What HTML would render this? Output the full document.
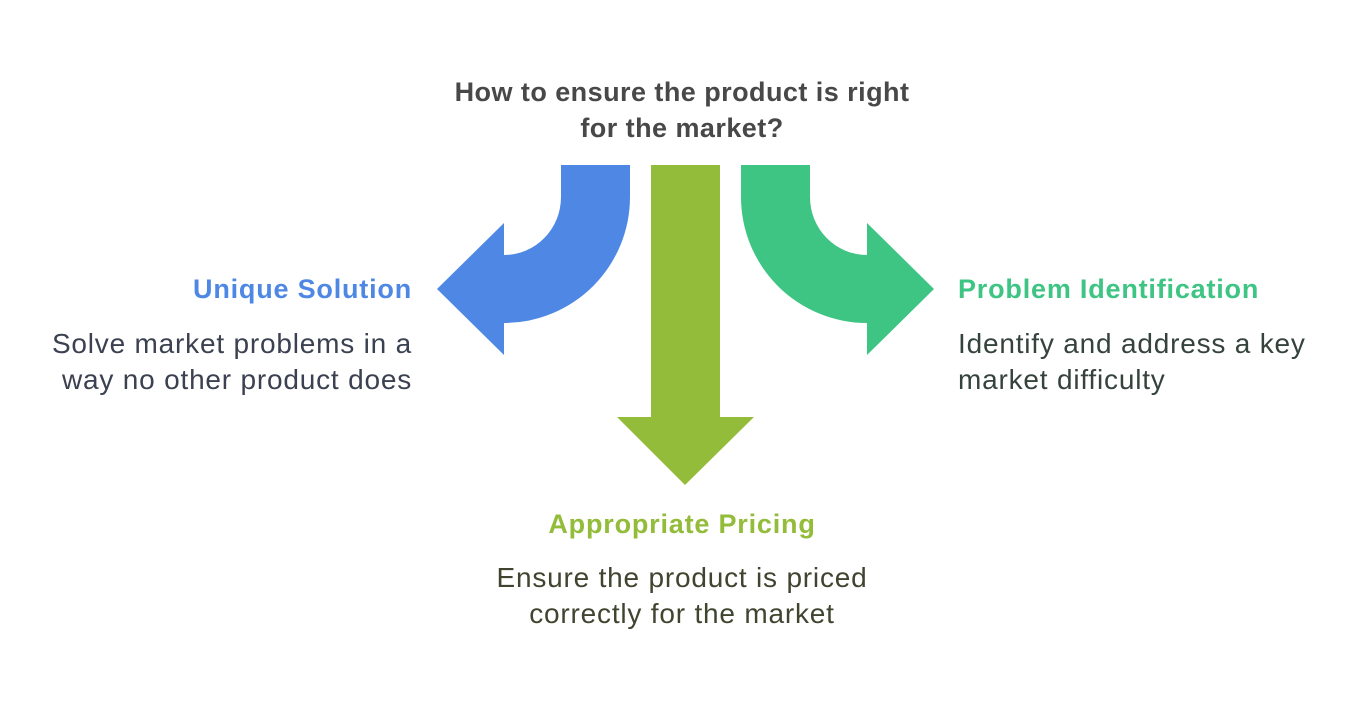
<!DOCTYPE html>
<html><head><meta charset="utf-8"><style>
body{margin:0;width:1353px;height:706px;background:#fff;overflow:hidden;font-family:"Liberation Sans",sans-serif}
.t{position:absolute;font-size:27px;line-height:36px}
.b{font-size:28px;letter-spacing:0.8px}
</style></head><body>
<svg width="1353" height="706" style="position:absolute;left:0;top:0">
<path d="M561,165 L630,165 L630,197 A126,126 0 0 1 504,323 L504,355 L437,289 L504,223 L504,255 A57,58 0 0 0 561,197 Z" fill="#4e88e4"/>
<path d="M810,165 L741,165 L741,197 A126,126 0 0 0 867,323 L867,355 L934,289 L867,223 L867,255 A57,58 0 0 1 810,197 Z" fill="#3ec584"/>
<path d="M651,165 L720,165 L720,417 L754,417 L685,485 L617,417 L651,417 Z" fill="#93bc3b"/>
</svg>
<div class="t" style="left:332px;width:700px;top:74px;text-align:center;font-weight:bold;color:#484848;letter-spacing:0.45px">How to ensure the product is right<br>for the market?</div>
<div class="t" style="left:0px;width:412px;top:271px;text-align:right;font-weight:bold;color:#4e88e4;letter-spacing:0.8px">Unique Solution</div>
<div class="t b" style="left:0px;width:412px;top:326px;text-align:right;color:#3b4150">Solve market problems in a<br>way no other product does</div>
<div class="t" style="left:958px;width:395px;top:271px;font-weight:bold;color:#3ec584;letter-spacing:0.8px">Problem Identification</div>
<div class="t b" style="left:958px;width:395px;top:326px;color:#36433d">Identify and address a key<br>market difficulty</div>
<div class="t" style="left:382px;width:600px;top:506px;text-align:center;font-weight:bold;color:#93bc3b;letter-spacing:0.8px">Appropriate Pricing</div>
<div class="t b" style="left:382px;width:600px;top:560px;text-align:center;color:#40452f">Ensure the product is priced<br>correctly for the market</div>
</body></html>
